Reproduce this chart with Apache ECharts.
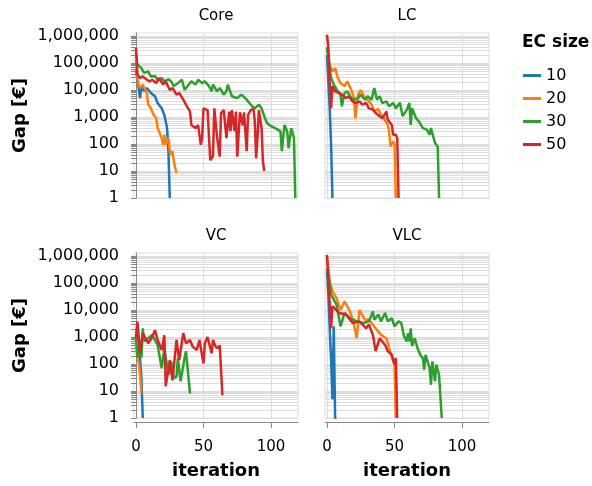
<!DOCTYPE html>
<html>
<head>
<meta charset="utf-8">
<script src="https://cdn.jsdelivr.net/npm/echarts@6/dist/echarts.min.js"></script>
<style>
  html, body { margin: 0; padding: 0; background: #fff; }
  #chart { width: 592px; height: 486px; }
</style>
</head>
<body>
<div id="chart"></div>
<script>
// panels and EC sizes
const panels = ["Core", "LC", "VC", "VLC"];
const sizes = ["10", "20", "30", "50"];
const colors = ["#1f77b4", "#ff7f0e", "#2ca02c", "#d62728"];

// [iteration, gap €]
const core10 = [[0,56000],[1,25000],[3,5000],[4,14000],[6,9000],[8,12000],[11,7800],[14,5900],[16,3300],[19,2100],[21,1200],[23,390],[24,55],[25,1]];
const core20 = [[0,115000],[1,30000],[2,15000],[3,12000],[5,16000],[8,7800],[9,2900],[11,2100],[13,1200],[15,900],[16,390],[17,300],[19,166],[20,94],[21,220],[22,94],[24,166],[25,54],[26,40],[27,54],[28,23],[29,13],[30,8.5]];
const core30 = [[0,234000],[1,90000],[4,65000],[6,43000],[9,49000],[11,32000],[14,33000],[16,24000],[19,28000],[21,21000],[24,25000],[26,21000],[28,14000],[31,18000],[34,24000],[36,10000],[39,16000],[41,21000],[44,16000],[46,24000],[49,18000],[51,21000],[54,14000],[56,9000],[57,16000],[60,9000],[62,12000],[65,6800],[67,9000],[68,16000],[71,5900],[75,5000],[78,6800],[81,5000],[83,3800],[86,2500],[88,2100],[91,2900],[93,2100],[95,1070],[97,600],[100,460],[103,390],[107,300],[108,54],[110,510],[112,300],[113,70],[115,390],[116,260],[117,166],[118,1]];
const core50 = [[0,360000],[1,37000],[3,28000],[5,32000],[8,24000],[10,21000],[12,24000],[15,18000],[17,28000],[20,16000],[22,21000],[25,10000],[27,12000],[30,6800],[32,7800],[35,4400],[37,2900],[40,1600],[41,510],[44,390],[46,500],[48,94],[49,166],[50,2100],[53,1800],[55,25],[57,35],[58,2100],[60,190],[62,34],[63,1400],[65,1800],[67,166],[69,1600],[70,300],[71,1800],[73,300],[74,1600],[75,34],[77,1500],[79,500],[80,1500],[82,54],[83,1200],[85,1800],[87,2000],[88,700],[89,30],[90,166],[91,1800],[93,390],[94,23],[95,10]];

const lc10 = [[0,200000],[1,20000],[2,2000],[3,100],[4,1]];
const lc20 = [[0,400000],[2,87000],[4,49000],[6,65000],[8,28000],[10,18000],[13,14000],[15,21000],[18,10000],[20,5000],[21,900],[23,6800],[25,10000],[28,5000],[30,4400],[33,2900],[35,1600],[38,2000],[40,1200],[42,900],[45,510],[46,300],[47,81],[49,126],[50,100],[51,1]];
const lc30 = [[0,360000],[2,65000],[3,28000],[5,16000],[8,8900],[10,6800],[11,2500],[13,7800],[15,8900],[18,5000],[20,4400],[23,5000],[25,6800],[28,4400],[30,5900],[33,4400],[35,12000],[37,4400],[39,5900],[41,3300],[44,3800],[46,2500],[49,3300],[51,2100],[54,3400],[56,1100],[59,1800],[61,3300],[62,510],[63,2100],[66,900],[68,690],[71,390],[74,340],[76,220],[77,390],[79,166],[80,110],[82,81],[83,1]];
const lc50 = [[0,1100000],[1,360000],[2,16000],[3,2100],[4,14000],[6,8900],[9,7800],[11,6800],[14,5000],[16,5900],[19,3800],[21,3300],[24,3800],[26,2900],[29,3300],[31,2100],[34,1900],[36,1400],[39,1070],[41,900],[44,1600],[45,800],[48,510],[49,220],[51,220],[52,166],[53,1]];

const vc10 = [[0,700],[1,3000],[2,500],[3,150],[4,30],[5,1]];
const vc20 = [[0,800],[1,150],[2,120],[3,40],[4,8]];
const vc30 = [[0,1200],[1,170],[2,500],[4,170],[5,2100],[6,700],[9,900],[12,1200],[16,510],[19,70],[21,390],[24,40],[26,126],[28,30],[30,34],[31,170],[33,23],[36,170],[37,300],[40,8]];
const vc50 = [[0,900],[1,3700],[3,250],[5,1400],[9,590],[12,1000],[14,1800],[16,780],[19,330],[21,1170],[22,15],[25,140],[27,25],[30,780],[32,140],[35,1400],[37,590],[40,780],[42,440],[45,330],[47,780],[50,105],[51,590],[53,1000],[56,250],[57,780],[59,440],[61,380],[62,500],[64,7]];

const vlc10 = [[0,270000],[1,40000],[2,2000],[3,150],[4,5],[5,2500],[6,1],[7,1]];
const vlc20 = [[0,850000],[2,120000],[4,49000],[7,28000],[10,10000],[13,21000],[17,8900],[20,2900],[22,900],[24,10000],[28,4400],[31,4400],[36,2100],[40,1200],[44,900],[46,390],[49,126],[50,100],[51,1]];
const vlc30 = [[0,360000],[3,37000],[7,16000],[10,2500],[13,7800],[17,5000],[22,3800],[27,3300],[31,3800],[34,8900],[35,4400],[38,6800],[40,3800],[43,7800],[45,3800],[48,5000],[50,2500],[53,3800],[55,3300],[57,1100],[59,690],[60,1400],[61,690],[62,2100],[63,460],[65,900],[67,390],[69,220],[71,166],[72,62],[73,220],[76,70],[77,17],[78,126],[80,23],[81,94],[83,40],[84,40],[85,1]];
const vlc50 = [[0,1100000],[1,155000],[2,16000],[3,2100],[4,14000],[9,7800],[14,6800],[19,3300],[24,3800],[29,2100],[31,2900],[34,1200],[36,300],[39,900],[43,510],[45,300],[48,220],[50,94],[51,166],[52,1]];

const panelData = [
  [core10, core20, core30, core50],
  [lc10, lc20, lc30, lc50],
  [vc10, vc20, vc30, vc50],
  [vlc10, vlc20, vlc30, vlc50]
];

const xTicks = [0, 50, 100];
const yLabels = [1, 10, 100, 1000, 10000, 100000, 1000000];
// minor ticks 1..9 of every decade
const yMinor = [];
for (let d = 1; d <= 1000000; d *= 10) {
  for (let k = 1; k <= 9; k++) {
    if (d * k <= 1000000) yMinor.push(d * k);
  }
}

const chart = echarts.init(document.getElementById("chart"));

const lefts = [134, 325, 134, 325];
const tops = [33, 33, 253, 253];
const grids = [], xAxes = [], yAxes = [], series = [], titles = [];

panels.forEach((p, i) => {
  const isLeft = i % 2 === 0;
  const isBottom = i >= 2;
  grids.push({
    left: lefts[i], top: tops[i], width: 164, height: 165,
    show: true, borderColor: "#ddd", borderWidth: 1
  });
  titles.push({
    text: p, left: lefts[i] + 82, top: tops[i] - 24, textAlign: "center", padding: 0,
    textStyle: { fontSize: 15, fontWeight: "normal", color: "#000", fontFamily: "DejaVu Sans" }
  });
  xAxes.push({
    type: "value", gridIndex: i, min: -1.5, max: 120,
    offset: 4,
    axisLine: { show: isBottom, onZero: false, lineStyle: { color: "#888" } },
    axisTick: { show: isBottom, length: 6, customValues: xTicks, lineStyle: { color: "#888" } },
    axisLabel: { show: isBottom, customValues: xTicks, fontSize: 15, color: "#000", margin: 18, fontFamily: "DejaVu Sans" },
    splitLine: { show: true, lineStyle: { color: "#ddd" } },
    name: isBottom ? "iteration" : "",
    nameLocation: "middle", nameGap: 40,
    nameTextStyle: { fontSize: 18, fontWeight: "bold", color: "#000", fontFamily: "DejaVu Sans" }
  });
  yAxes.push({
    type: "log", logBase: 10, gridIndex: i, min: 1, max: 1300000,
    offset: isLeft ? 7 : 0,
    axisLine: { show: isLeft, lineStyle: { color: "#888" } },
    axisTick: { show: isLeft, length: 5, customValues: yMinor, lineStyle: { color: "#888" } },
    axisLabel: {
      show: isLeft, customValues: yLabels, fontSize: 16, color: "#000", margin: 8,
      fontFamily: "DejaVu Sans",
      formatter: v => Number(v).toLocaleString("en-US")
    },
    splitLine: { show: true, lineStyle: { color: "#ddd" } },
    name: isLeft ? "Gap [€]" : "",
    nameLocation: "middle", nameGap: 98, nameRotate: 90,
    nameTextStyle: { fontSize: 18, fontWeight: "bold", color: "#000", fontFamily: "DejaVu Sans" }
  });
  sizes.forEach((s, k) => {
    series.push({
      type: "line", name: s, xAxisIndex: i, yAxisIndex: i,
      data: panelData[i][k], showSymbol: false, symbol: "none",
      color: colors[k], lineStyle: { width: 2.5, color: colors[k] },
      animation: false
    });
  });
});

titles.push({
  text: "EC size", left: 522, top: 34, padding: 0,
  textStyle: { fontSize: 17, fontWeight: "bold", color: "#000", fontFamily: "DejaVu Sans" }
});

chart.setOption({
  animation: false,
  title: titles,
  grid: grids,
  xAxis: xAxes,
  yAxis: yAxes,
  series: series,
  legend: {
    data: sizes, orient: "vertical", left: 523, top: 64, padding: 0,
    icon: "rect", itemWidth: 18, itemHeight: 3, itemGap: 0,
    textStyle: { fontSize: 16, color: "#000", lineHeight: 23, fontFamily: "DejaVu Sans" }
  }
});
</script>
</body>
</html>
